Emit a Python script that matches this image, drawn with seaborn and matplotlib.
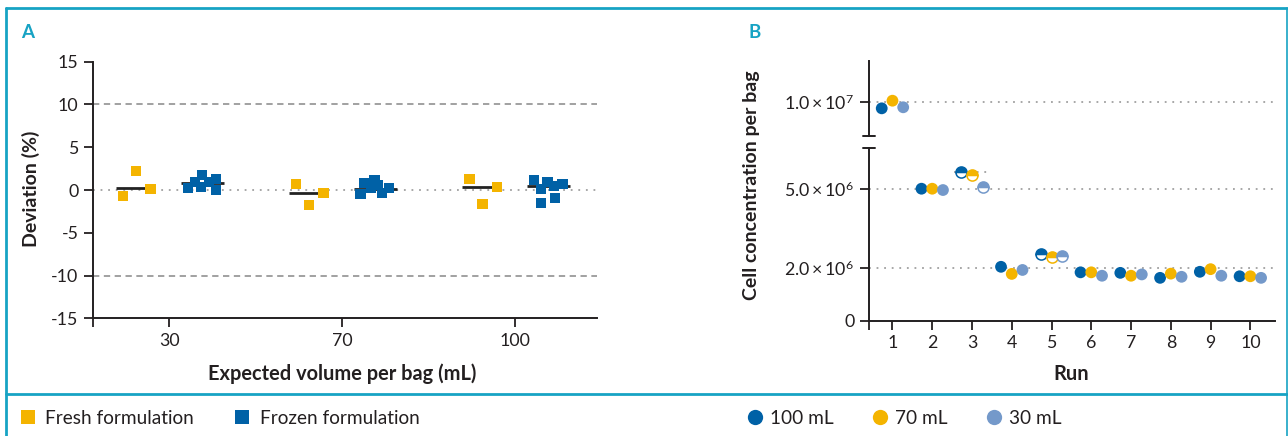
import numpy as np
import pandas as pd
import matplotlib
matplotlib.use('Agg')
import matplotlib.pyplot as plt
from matplotlib.lines import Line2D
import seaborn as sns

# ---- data: panel A (deviation % per bag) ----
volumes = ['30', '70', '100']
fresh_30 = [-0.70, 2.22, 0.12]
fresh_70 = [0.70, -1.75, -0.31]
fresh_100 = [1.29, -1.60, 0.35]
frozen_30 = [0.23, 0.94, 1.75, 0.35, 0.94, 1.29, 0.00]
frozen_70 = [-0.43, 0.78, 1.17, 0.20, 0.58, -0.35, 0.27]
frozen_100 = [1.17, 0.12, -1.48, 0.94, 0.47, -0.90, 0.67]
fresh_centre = [0.23, -0.31, 0.35]
frozen_centre = [0.78, 0.15, 0.45]
# horizontal spread of the points inside each group (category units)
fresh_jitter = [-0.265, -0.19, -0.108]
frozen_jitter_30 = [0.108, 0.148, 0.188, 0.183, 0.229, 0.269, 0.269]
frozen_jitter_70 = [0.105, 0.127, 0.186, 0.166, 0.205, 0.230, 0.272]
frozen_jitter_100 = [0.107, 0.146, 0.146, 0.186, 0.223, 0.228, 0.273]

# ---- data: panel B (cell concentration per bag) ----
runs = [1, 2, 3, 4, 5, 6, 7, 8, 9, 10]
conc_100 = [9.75e6, 5.02e6, 5.64e6, 2.05e6, 2.54e6, 1.84e6, 1.82e6, 1.63e6, 1.86e6, 1.69e6]
conc_70 = [1.004e7, 5.02e6, 5.56e6, 1.78e6, 2.42e6, 1.84e6, 1.71e6, 1.79e6, 1.96e6, 1.69e6]
conc_30 = [9.79e6, 4.97e6, 5.08e6, 1.93e6, 2.47e6, 1.71e6, 1.76e6, 1.67e6, 1.71e6, 1.63e6]
half_runs = [3, 5]
run3_ref_x = [2.54, 3.37]
run3_ref_y = 5.64e6

yellow = '#F4B400'
dblue = '#0061A6'
lblue = '#7499CA'
cyan = '#17A3C4'
ink = '#231F20'

sns.set_style('ticks')
plt.rcParams['font.family'] = ['Lato', 'DejaVu Sans']
plt.rcParams['mathtext.fontset'] = 'custom'
plt.rcParams['mathtext.rm'] = 'Lato'
plt.rcParams['mathtext.it'] = 'Lato:italic'
plt.rcParams['mathtext.bf'] = 'Lato:bold'
plt.rcParams['axes.unicode_minus'] = False
plt.rcParams['text.color'] = ink
plt.rcParams['xtick.color'] = ink
plt.rcParams['ytick.color'] = ink

W, H = 1288, 436
fig = plt.figure(figsize=(W / 100, H / 100), dpi=100)


def fx(px):
    return px / W


def fy(py):
    return 1 - py / H


def style_axis(ax):
    for s in ['top', 'right']:
        ax.spines[s].set_visible(False)
    for s in ['left', 'bottom']:
        ax.spines[s].set_linewidth(1.4)
        ax.spines[s].set_color(ink)
    ax.tick_params(axis='both', which='both', direction='out', length=6.5,
                   width=1.3, labelsize=12.8, pad=4, colors=ink)


# ================= panel A =================
axA = fig.add_axes([fx(93), fy(318.3), fx(596.7 - 93), (318.3 - 61.7) / H])
style_axis(axA)

rows = []
fresh_sets = [fresh_30, fresh_70, fresh_100]
frozen_sets = [frozen_30, frozen_70, frozen_100]
frozen_jits = [frozen_jitter_30, frozen_jitter_70, frozen_jitter_100]
for i, v in enumerate(volumes):
    for d, j in zip(fresh_sets[i], fresh_jitter):
        rows.append({'x': i + j, 'dev': d, 'form': 'Fresh formulation'})
    for d, j in zip(frozen_sets[i], frozen_jits[i]):
        rows.append({'x': i + j, 'dev': d, 'form': 'Frozen formulation'})
dfA = pd.DataFrame(rows)

axA.axhline(10, color='#9A9A9A', lw=1.3, ls=(0, (3.5, 2.5)), zorder=1)
axA.axhline(-10, color='#9A9A9A', lw=1.3, ls=(0, (3.5, 2.5)), zorder=1)
axA.axhline(0, color='#A0A0A0', lw=1.3, ls=(0, (1, 3.2)), zorder=1)

pos = np.arange(len(volumes))
axA.hlines(fresh_centre, pos - 0.31, pos - 0.135, color='#222222', lw=2.0, zorder=2)
axA.hlines(frozen_centre, pos + 0.067, pos + 0.316, color='#222222', lw=2.0, zorder=2)

sns.scatterplot(data=dfA, x='x', y='dev', hue='form', marker='s', s=54,
                palette={'Fresh formulation': yellow, 'Frozen formulation': dblue},
                linewidth=0, legend=False, ax=axA, zorder=3)

axA.set_xlim(-0.44, 2.47)
axA.set_ylim(-15, 15)
axA.set_xticks(pos)
axA.set_xticklabels(volumes)
axA.set_xticks([-0.44], minor=True)
axA.set_yticks(np.arange(-15, 16, 5))
axA.set_yticklabels([str(v) for v in range(-15, 16, 5)])
axA.set_xlabel('')
axA.set_ylabel('')

fig.text(fx(30.5), fy(189), 'Deviation (%)', rotation=90, ha='center', va='center',
         fontsize=14, fontweight='bold')
fig.text(fx(341.7), fy(374), 'Expected volume per bag (mL)', ha='center', va='center',
         fontsize=14.4, fontweight='bold')

# ================= panel B (broken y axis) =================
axB = fig.add_axes([fx(869), fy(320.7), fx(1275 - 869), (320.7 - 147.7) / H])
axT = fig.add_axes([fx(869), fy(135.7), fx(1275 - 869), (135.7 - 60.7) / H], sharex=axB)
style_axis(axB)
style_axis(axT)
axT.spines['bottom'].set_visible(False)
axT.tick_params(axis='x', which='both', bottom=False, labelbottom=False)

offsets = {'100 mL': -0.27, '70 mL': 0.0, '30 mL': 0.27}
series = {'100 mL': conc_100, '70 mL': conc_70, '30 mL': conc_30}
colors = {'100 mL': dblue, '70 mL': yellow, '30 mL': lblue}

rowsB = []
for name, vals in series.items():
    for r, c in zip(runs, vals):
        rowsB.append({'x': r + offsets[name], 'conc': c, 'vol': name,
                      'half': r in half_runs})
dfB = pd.DataFrame(rowsB)

for ax in (axB, axT):
    ax.plot(run3_ref_x, [run3_ref_y, run3_ref_y], color='#A0A0A0', lw=1.3,
            ls=(0, (1, 3.2)), zorder=1)
    sns.scatterplot(data=dfB[~dfB['half']], x='x', y='conc', hue='vol',
                    palette=colors, marker='o', s=72, linewidth=0,
                    legend=False, ax=ax, zorder=3)
    for name in series:
        sub = dfB[dfB['half'] & (dfB['vol'] == name)]
        ax.plot(sub['x'], sub['conc'], ls='none', marker='o', markersize=8.0,
                fillstyle='top', markerfacecolor=colors[name],
                markerfacecoloralt='white', markeredgecolor=colors[name],
                markeredgewidth=1.1, zorder=3)
    ax.set_xlabel('')
    ax.set_ylabel('')

for y in (2e6, 5e6):
    axB.axhline(y, color='#A0A0A0', lw=1.3, ls=(0, (1, 3.2)), zorder=1)
axT.axhline(1e7, color='#A0A0A0', lw=1.3, ls=(0, (1, 3.2)), zorder=1)

axB.set_xlim(0.41, 10.62)
axB.set_ylim(0, 6.58e6)
axT.set_ylim(8.71e6, 1.156e7)
axB.set_xticks(runs)
axB.set_xticklabels([str(r) for r in runs])
axB.set_xticks([0.41], minor=True)
axB.set_yticks([0, 2e6, 5e6])
axB.set_yticklabels(['0', r'$2.0\times10^{6}$', r'$5.0\times10^{6}$'])
axT.set_yticks([1e7])
axT.set_yticklabels([r'$1.0\times10^{7}$'])

# break marks at the ends of the y spine
bk = 0.014
axT.plot([-bk, bk], [0, 0], transform=axT.transAxes, color=ink, lw=1.4, clip_on=False)
axB.plot([-bk, bk], [1, 1], transform=axB.transAxes, color=ink, lw=1.4, clip_on=False)

fig.text(fx(752), fy(185), 'Cell concentration per bag', rotation=90, ha='center',
         va='center', fontsize=14, fontweight='bold')
fig.text(fx(1071), fy(374), 'Run', ha='center', va='center', fontsize=14.4,
         fontweight='bold')

# panel letters
fig.text(fx(21), fy(33), 'A', ha='left', va='center', fontsize=13.5,
         fontweight='bold', color=cyan)
fig.text(fx(748.5), fy(33), 'B', ha='left', va='center', fontsize=13.5,
         fontweight='bold', color=cyan)

# frame
frame = [((5.5, 5.5), (8.5, 436), 2.0), ((1286.8, 1286.8), (8.5, 436), 1.2),
         ((5.5, 1286.8), (8.5, 8.5), 2.0), ((5.5, 1286.8), (394, 394), 2.0)]
for xs, ys, lw in frame:
    fig.add_artist(Line2D([fx(xs[0]), fx(xs[1])], [fy(ys[0]), fy(ys[1])],
                          transform=fig.transFigure, color=cyan, lw=lw))

# legends
hA = [Line2D([], [], ls='none', marker='s', markersize=10, color=c, markeredgewidth=0)
      for c in (yellow, dblue)]
fig.legend(hA, ['Fresh formulation', 'Frozen formulation'], loc='center left',
           bbox_to_anchor=(fx(18.5), fy(418)), ncol=2, frameon=False, fontsize=13.7,
           handlelength=0.95, handletextpad=0.45, columnspacing=2.05, borderpad=0,
           borderaxespad=0)
hB = [Line2D([], [], ls='none', marker='o', markersize=11, color=colors[n],
             markeredgewidth=0) for n in series]
fig.legend(hB, list(series), loc='center left', bbox_to_anchor=(fx(746), fy(418)),
           ncol=3, frameon=False, fontsize=13.7, handlelength=0.95, handletextpad=0.32,
           columnspacing=1.95, borderpad=0, borderaxespad=0)

fig.savefig('out.png', dpi=100)
